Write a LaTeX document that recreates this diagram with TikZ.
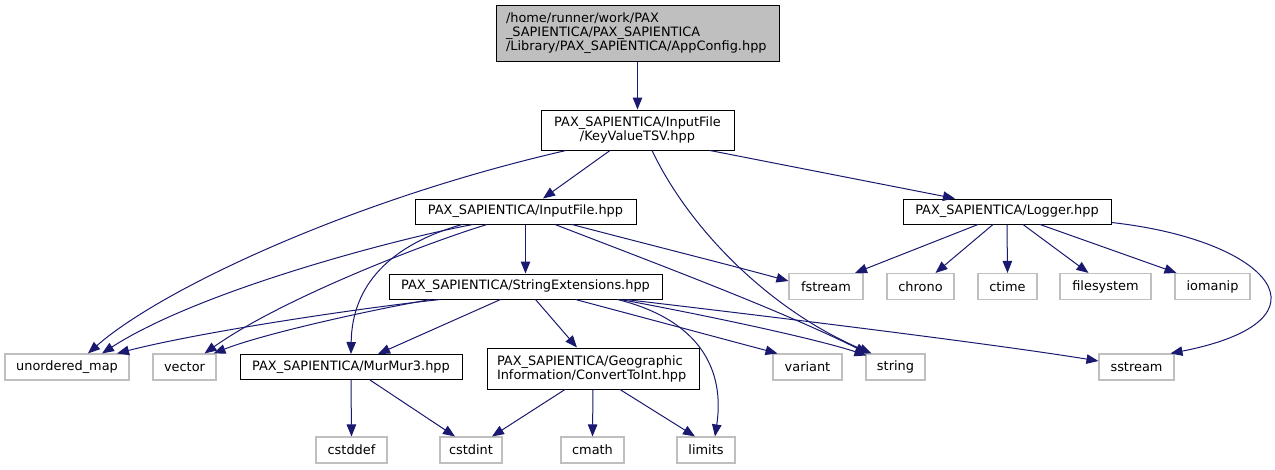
\documentclass[tikz,border=0pt]{standalone}
\usepackage{fontspec}
\setmainfont{DejaVu Sans}
\usetikzlibrary{arrows.meta,calc}
\definecolor{edgeblue}{HTML}{191970}
\definecolor{boxgray}{HTML}{BFBFBF}
\definecolor{boxdark}{HTML}{000000}
\begin{document}
\begin{tikzpicture}[x=1pt,y=-1pt,
  every node/.style={font=\fontsize{12.9}{14}\selectfont, inner sep=0pt},
  docbox/.style={draw=boxdark, line width=1pt, fill=white, rectangle, align=center},
  sysbox/.style={draw=boxgray, line width=1.1pt, fill=white, rectangle, minimum height=26pt, align=center},
  dep/.style={draw=edgeblue, line width=1pt, -{Triangle[length=12pt,width=9.5pt]}},
]
\useasboundingbox (0,0) rectangle (1275,469);

% nodes
\node[docbox, fill=boxgray, minimum width=283pt, minimum height=56pt, text width=263pt, align=left] (app) at (637.5,33)
  {/home/runner/work/PAX\\\_SAPIENTICA/PAX\_SAPIENTICA\\/Library/PAX\_SAPIENTICA/AppConfig.hpp};
\node[docbox, minimum width=193pt, minimum height=40pt] (kvt) at (637.5,130) {PAX\_SAPIENTICA/InputFile\\/KeyValueTSV.hpp};
\node[docbox, minimum width=221pt, minimum height=25pt] (inp) at (525.5,211.5) {PAX\_SAPIENTICA/InputFile.hpp};
\node[docbox, minimum width=208pt, minimum height=25pt] (log) at (1007,211.5) {PAX\_SAPIENTICA/Logger.hpp};
\node[docbox, minimum width=273pt, minimum height=25pt] (str) at (525.5,286.5) {PAX\_SAPIENTICA/StringExtensions.hpp};
\node[sysbox, minimum width=74pt] (fst) at (826,286.5) {fstream};
\node[sysbox, minimum width=67pt] (chr) at (920.5,286.5) {chrono};
\node[sysbox, minimum width=59pt] (cti) at (1007.5,286.5) {ctime};
\node[sysbox, minimum width=91pt] (fil) at (1105.5,286.5) {filesystem};
\node[sysbox, minimum width=75pt] (iom) at (1212.5,286.5) {iomanip};
\node[sysbox, minimum width=124pt] (umap) at (67,367) {unordered\_map};
\node[sysbox, minimum width=63pt] (vec) at (184.5,367) {vector};
\node[docbox, minimum width=222pt, minimum height=25pt] (mur) at (351,367) {PAX\_SAPIENTICA/MurMur3.hpp};
\node[docbox, minimum width=212pt, minimum height=41pt, text width=192pt, align=left] (geo) at (593,368.5) {PAX\_SAPIENTICA/Geographic\\Information/ConvertToInt.hpp};
\node[sysbox, minimum width=69pt] (var) at (807.5,367) {variant};
\node[sysbox, minimum width=59pt] (strg) at (895.5,367) {string};
\node[sysbox, minimum width=75pt] (sst) at (1136.5,367) {sstream};
\node[sysbox, minimum width=71pt] (cdef) at (351.5,450) {cstddef};
\node[sysbox, minimum width=62pt] (cint) at (471,450) {cstdint};
\node[sysbox, minimum width=63pt] (cmath) at (592.5,450) {cmath};
\node[sysbox, minimum width=58pt] (lim) at (706,450) {limits};

% edges
\draw[dep] (app.south) -- (kvt.north);
\draw[dep] ($(kvt.south)+(-27.5,0)$) -- ($(inp.north)+(17.5,0)$);
\draw[dep] ($(kvt.south)+(72.5,0)$) -- ($(log.north)+(-52,0)$);
\draw[dep] ($(kvt.south)+(-71.5,0)$) .. controls (350,200) and (160,290) .. ($(umap.north)+(21,0)$);
\draw[dep] ($(kvt.south)+(14.5,0)$) .. controls (690,230) and (770,310) .. ($(strg.north)+(-24,0)$);

\draw[dep] (inp.south) -- (str.north);
\draw[dep] ($(inp.south)+(46.5,0)$) .. controls (650,245) and (730,265) .. ($(fst.west)+(0,-5.5)$);
\draw[dep] ($(inp.south)+(-52.5,0)$) .. controls (400,238) and (200,290) .. ($(umap.north)+(35,0)$);
\draw[dep] ($(inp.south)+(-38.5,0)$) .. controls (420,245) and (280,300) .. ($(vec.north)+(20,0)$);
\draw[dep] ($(inp.south)+(-63.5,0)$) .. controls (390,245) and (352,285) .. (mur.north);
\draw[dep] ($(inp.south)+(29.5,0)$) .. controls (660,265) and (780,310) .. ($(strg.north)+(-28,0)$);

\draw[dep] ($(log.south)+(-29,0)$) -- ($(fst.north)+(29,0)$);
\draw[dep] ($(log.south)+(-14,0)$) -- ($(chr.north)+(15,0)$);
\draw[dep] (log.south) -- (cti.north);
\draw[dep] ($(log.south)+(16,0)$) -- ($(fil.north)+(-17,0)$);
\draw[dep] ($(log.south)+(33,0)$) -- ($(iom.north)+(-36,0)$);
\draw[dep] ($(log.south east)+(0,-2)$) .. controls (1270,240) and (1340,320) .. ($(sst.north)+(34,0)$);

\draw[dep] ($(str.south)+(-85,0)$) .. controls (360,308) and (200,332) .. ($(umap.north)+(50,0)$);
\draw[dep] ($(str.south)+(-95,0)$) .. controls (360,312) and (260,335) .. ($(vec.north)+(29,0)$);
\draw[dep] ($(str.south)+(-25,0)$) -- ($(mur.north)+(27,0)$);
\draw[dep] ($(str.south)+(10,0)$) -- ($(geo.north)+(-16,0)$);
\draw[dep] ($(str.south)+(50,0)$) -- ($(var.north)+(-30,0)$);
\draw[dep] ($(str.south)+(95,0)$) .. controls (720,318) and (820,340) .. ($(strg.north west)+(1,2)$);
\draw[dep] ($(str.south)+(100,0)$) .. controls (800,320) and (1000,345) .. ($(sst.west)+(0,-6)$);
\draw[dep] ($(str.south)+(92,0)$) .. controls (700,320) and (725,370) .. ($(lim.north)+(9,0)$);

\draw[dep] (mur.south) -- (cdef.north);
\draw[dep] ($(mur.south)+(19,0)$) -- ($(cint.north)+(-16,0)$);
\draw[dep] ($(geo.south)+(-28,0)$) -- ($(cint.north)+(21,0)$);
\draw[dep] (geo.south) -- (cmath.north);
\draw[dep] ($(geo.south)+(27,0)$) -- ($(lim.north)+(-11,0)$);
\end{tikzpicture}
\end{document}
